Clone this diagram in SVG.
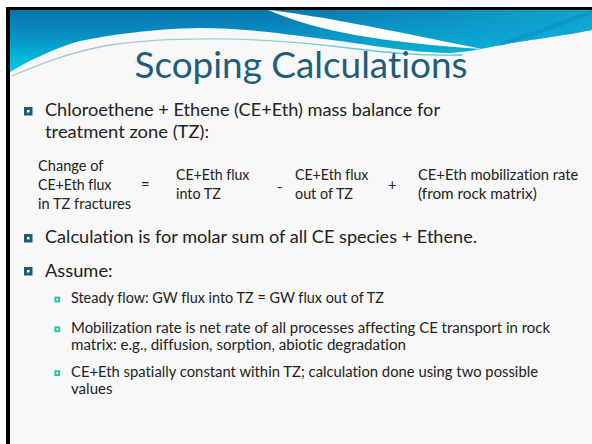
<svg xmlns="http://www.w3.org/2000/svg" width="592" height="444" viewBox="0 0 592 444">
  <defs>
    <linearGradient id="blueV" gradientUnits="userSpaceOnUse" x1="0" y1="10" x2="0" y2="74">
      <stop offset="0" stop-color="#0872ab"/>
      <stop offset="0.45" stop-color="#0794c6"/>
      <stop offset="1" stop-color="#02d2e6"/>
    </linearGradient>
    <linearGradient id="blueH" gradientUnits="userSpaceOnUse" x1="250" y1="0" x2="592" y2="0">
      <stop offset="0" stop-color="#0fb4d6" stop-opacity="0"/>
      <stop offset="1" stop-color="#10b4d8" stop-opacity="0.75"/>
    </linearGradient>
    <linearGradient id="thin" gradientUnits="userSpaceOnUse" x1="12" y1="0" x2="470" y2="0">
      <stop offset="0" stop-color="#9ab6c4"/>
      <stop offset="0.5" stop-color="#7fc8d4"/>
      <stop offset="1" stop-color="#19b3d3"/>
    </linearGradient>
    <style>
      text { font-family: Lato, "Open Sans", "Liberation Sans", sans-serif; font-variant-ligatures: none; font-feature-settings: "liga" 0, "clig" 0, "dlig" 0; }
      .title { font-size: 37px; fill: #1f5e7a; }
      .body { font-size: 18px; fill: #222222; }
      .eq { font-size: 14.8px; fill: #222222; }
      .sub { font-size: 14.8px; fill: #222222; }
      .mk { fill: #ffffff; stroke: #1b5c77; stroke-width: 3; }
      .smk { fill: #ffffff; stroke: #2fc6a5; stroke-width: 2; }
    </style>
  </defs>

  <rect x="0" y="0" width="592" height="444" fill="#ffffff"/>
  <rect x="10" y="10" width="582" height="434" fill="#f8f8f8"/>

  <g id="header">
    <path d="M10,10 H592 V30 C560,36 530,40 512,43 C490,47 470,52 450,53 C410,52 390,48 340,41 C300,36 250,28 200,28 C150,29 110,35 80,41 C55,48 30,60 10,72 Z" fill="url(#blueV)"/>
    <path d="M10,10 H592 V30 C560,36 530,40 512,43 C490,47 470,52 450,53 C410,52 390,48 340,41 C300,36 250,28 200,28 C150,29 110,35 80,41 C55,48 30,60 10,72 Z" fill="url(#blueH)"/>
    <path d="M268,10 C305,14 350,22 482,49 C380,42 320,32 268,10 Z" fill="#ffffff"/>
    <path d="M500,44 C530,36 560,24 592,12" fill="none" stroke="#0a86c4" stroke-width="4" opacity="0.45"/>
    <path d="M12,76 C40,64 70,52 110,45 C170,36 260,37 340,47 C390,53 420,56 462,55" fill="none" stroke="url(#thin)" stroke-width="1.3" opacity="0.8"/>
  </g>

  <g id="frame">
    <rect x="6" y="7" width="586" height="3" fill="#000000"/>
    <rect x="6" y="7" width="4" height="437" fill="#000000"/>
  </g>

  <g id="title">
    <text class="title" x="301" y="78" text-anchor="middle" textLength="333" lengthAdjust="spacingAndGlyphs">Scoping Calculations</text>
  </g>

  <g id="bullet-1">
    <rect class="mk" x="25.5" y="108.5" width="5.5" height="5.5"/>
    <text class="body" x="45" y="116" textLength="395" lengthAdjust="spacingAndGlyphs">Chloroethene + Ethene (CE+Eth) mass balance for</text>
    <text class="body" x="45" y="138" textLength="164" lengthAdjust="spacingAndGlyphs">treatment zone (TZ):</text>
  </g>

  <g id="equation">
    <text class="eq" x="38" y="171" textLength="65.4" lengthAdjust="spacingAndGlyphs">Change of</text>
    <text class="eq" x="38" y="190" textLength="73.4" lengthAdjust="spacingAndGlyphs">CE+Eth flux</text>
    <text class="eq" x="38" y="209" textLength="93" lengthAdjust="spacingAndGlyphs">in TZ fractures</text>
    <text class="eq" x="141" y="190">=</text>
    <text class="eq" x="176" y="180" textLength="73.4" lengthAdjust="spacingAndGlyphs">CE+Eth flux</text>
    <text class="eq" x="176" y="199" textLength="44.8" lengthAdjust="spacingAndGlyphs">into TZ</text>
    <text class="eq" x="277" y="192">-</text>
    <text class="eq" x="295" y="180" textLength="73.4" lengthAdjust="spacingAndGlyphs">CE+Eth flux</text>
    <text class="eq" x="295" y="199" textLength="58" lengthAdjust="spacingAndGlyphs">out of TZ</text>
    <text class="eq" x="388" y="190">+</text>
    <text class="eq" x="418" y="180" textLength="160.4" lengthAdjust="spacingAndGlyphs">CE+Eth mobilization rate</text>
    <text class="eq" x="418" y="199" textLength="118.7" lengthAdjust="spacingAndGlyphs">(from rock matrix)</text>
  </g>

  <g id="bullet-2">
    <rect class="mk" x="25.5" y="235.5" width="5.5" height="5.5"/>
    <text class="body" x="45" y="243" textLength="432" lengthAdjust="spacingAndGlyphs">Calculation is for molar sum of all CE species + Ethene.</text>
  </g>

  <g id="bullet-3">
    <rect class="mk" x="25.5" y="268.5" width="5.5" height="5.5"/>
    <text class="body" x="45" y="277" textLength="67.6" lengthAdjust="spacingAndGlyphs">Assume:</text>
  </g>

  <g id="sub-1">
    <rect class="smk" x="55.3" y="297.6" width="3.8" height="3.8"/>
    <text class="sub" x="71" y="303.3" textLength="313" lengthAdjust="spacingAndGlyphs">Steady flow: GW flux into TZ = GW flux out of TZ</text>
  </g>

  <g id="sub-2">
    <rect class="smk" x="55.3" y="327.4" width="3.8" height="3.8"/>
    <text class="sub" x="71" y="333" textLength="479" lengthAdjust="spacingAndGlyphs">Mobilization rate is net rate of all processes affecting CE transport in rock</text>
    <text class="sub" x="71" y="349.5" textLength="335" lengthAdjust="spacingAndGlyphs">matrix: e.g., diffusion, sorption, abiotic degradation</text>
  </g>

  <g id="sub-3">
    <rect class="smk" x="55.3" y="371.2" width="3.8" height="3.8"/>
    <text class="sub" x="71" y="377" textLength="467" lengthAdjust="spacingAndGlyphs">CE+Eth spatially constant within TZ; calculation done using two possible</text>
    <text class="sub" x="71" y="393.5" textLength="41.5" lengthAdjust="spacingAndGlyphs">values</text>
  </g>
</svg>
